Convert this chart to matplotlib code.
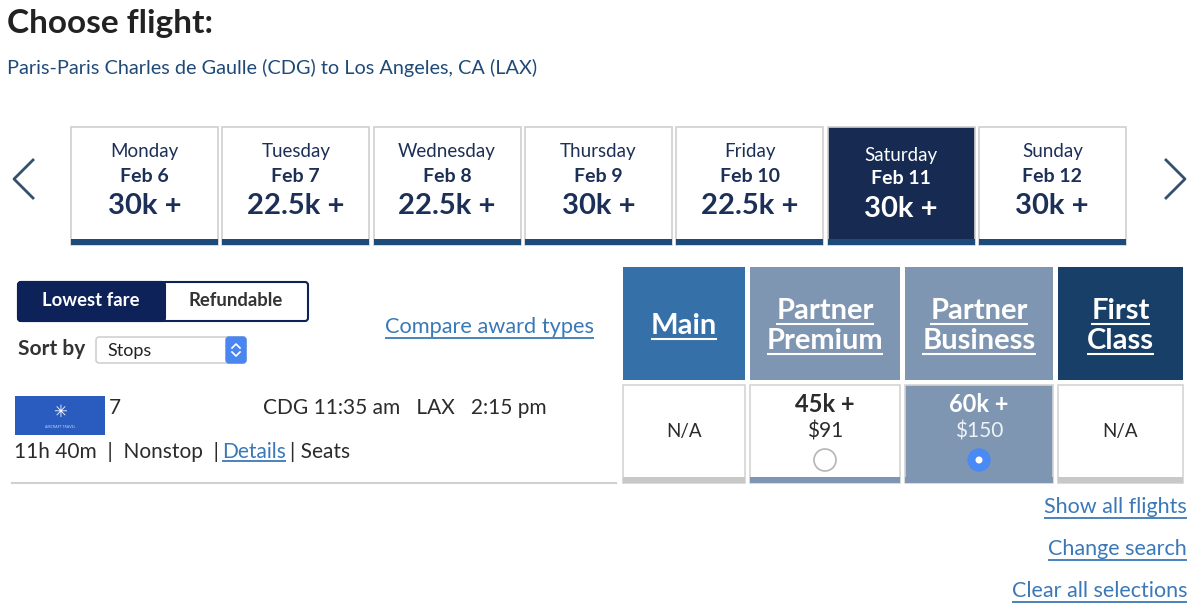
import matplotlib.pyplot as plt
from matplotlib.patches import Rectangle, FancyBboxPatch, Circle

plt.rcParams['font.family'] = ['Lato', 'DejaVu Sans']

# Data
days = ['Monday', 'Tuesday', 'Wednesday', 'Thursday', 'Friday', 'Saturday', 'Sunday']
dates = ['Feb 6', 'Feb 7', 'Feb 8', 'Feb 9', 'Feb 10', 'Feb 11', 'Feb 12']
prices = ['30k +', '22.5k +', '22.5k +', '30k +', '22.5k +', '30k +', '30k +']
selected_day = 5

fare_classes = ['Main', 'Partner\nPremium', 'Partner\nBusiness', 'First\nClass']
fare_miles = ['N/A', '45k +', '60k +', 'N/A']
fare_cash = ['', '$91', '$150', '']
selected_fare = 2

side_links = ['Show all flights', 'Change search', 'Clear all selections']

NAVY = '#172a52'
LINK = '#3a78b8'
TEXT = '#2b2b2b'
DARK = '#1c2f57'

fig = plt.figure(figsize=(12, 6.11), dpi=100)
ax = fig.add_axes([0, 0, 1, 1])
ax.set_xlim(0, 1200)
ax.set_ylim(611, 0)
ax.axis('off')
renderer = fig.canvas.get_renderer()


def underline(t, dy, color, lw=1.3):
    bb = t.get_window_extent(renderer).transformed(ax.transData.inverted())
    x0, x1 = sorted([bb.x0, bb.x1])
    ax.plot([x0, x1], [dy, dy], color=color, lw=lw, solid_capstyle='butt')


# header
ax.text(7, 24, 'Choose flight:', fontsize=24, fontweight='bold', color='#222222', va='center')
ax.text(7, 68, 'Paris-Paris Charles de Gaulle (CDG) to Los Angeles, CA (LAX)',
        fontsize=14.3, color='#1f4a78', va='center')

# date cards
card_x0, card_w, card_gap = 71, 147, 4.3
for i, (d, dt, p) in enumerate(zip(days, dates, prices)):
    x = card_x0 + i * (card_w + card_gap)
    sel = i == selected_day
    ax.add_patch(Rectangle((x, 127), card_w, 118, facecolor=NAVY if sel else 'white',
                           edgecolor='#cfcfcf', lw=1.2))
    ax.add_patch(Rectangle((x, 239), card_w, 6, facecolor='#1d4a78', edgecolor='none'))
    c = 'white' if sel else DARK
    off = 3 if sel else 0
    ax.text(x + card_w / 2, 152 + off, d, ha='center', va='center', fontsize=13.5, color=c)
    ax.text(x + card_w / 2, 176 + off, dt, ha='center', va='center', fontsize=14,
            fontweight='bold', color=c)
    ax.text(x + card_w / 2, 206 + off, p, ha='center', va='center', fontsize=21,
            fontweight='bold', color=c)

# arrows
ax.plot([33, 14, 33], [160, 179, 198], color='#34506e', lw=2)
ax.plot([1166, 1185, 1166], [160, 179, 198], color='#34506e', lw=2)

# toggle
ax.add_patch(FancyBboxPatch((18, 282), 290, 39, boxstyle='round,pad=0,rounding_size=3',
                            facecolor='white', edgecolor='#0d2259', lw=1.5))
ax.add_patch(FancyBboxPatch((18, 282), 147, 39, boxstyle='round,pad=0,rounding_size=3',
                            facecolor='#0d2259', edgecolor='#0d2259', lw=1.5))
ax.text(91, 300, 'Lowest fare', ha='center', va='center', fontsize=13.3, fontweight='bold',
        color='white')
ax.text(236, 300, 'Refundable', ha='center', va='center', fontsize=13.3, fontweight='bold',
        color='#333333')

# sort by
ax.text(18, 349, 'Sort by', va='center', fontsize=15, fontweight='bold', color='#333333')
ax.add_patch(FancyBboxPatch((96, 337), 150, 26, boxstyle='round,pad=0,rounding_size=3',
                            facecolor='white', edgecolor='#c8c8c8', lw=1))
ax.add_patch(FancyBboxPatch((226, 337), 20, 26, boxstyle='round,pad=0,rounding_size=3',
                            facecolor='#4a86f0', edgecolor='#4a86f0', lw=1))
ax.plot([232, 236, 240], [348, 344, 348], color='white', lw=1.2)
ax.plot([232, 236, 240], [352, 356, 352], color='white', lw=1.2)
ax.text(107, 351, 'Stops', va='center', fontsize=13, color='#222222')

t = ax.text(385, 327, 'Compare award types', va='center', fontsize=15.7, color=LINK)
underline(t, 338, LINK)

# fare headers and cells
fare_x = [623, 750, 905, 1058]
fare_w = [122, 150, 148, 125]
head_colors = ['#3670a8', '#7f96b2', '#7f96b2', '#173f68']
for i, (fc, fm, fcash) in enumerate(zip(fare_classes, fare_miles, fare_cash)):
    x, w = fare_x[i], fare_w[i]
    ax.add_patch(Rectangle((x, 267), w, 113, facecolor=head_colors[i], edgecolor='none'))
    lines = fc.split('\n')
    ys = [326] if len(lines) == 1 else [311, 341]
    for ln, y in zip(lines, ys):
        t = ax.text(x + w / 2, y, ln, ha='center', va='center', fontsize=21,
                    fontweight='bold', color='white')
        underline(t, y + 12.5, 'white', lw=1.5)
    sel = i == selected_fare
    ax.add_patch(Rectangle((x, 385), w, 98, facecolor='#7f96b2' if sel else 'white',
                           edgecolor='#d4d4d4', lw=1.2))
    bar = '#7f96b2' if i == 1 or sel else '#c8c8c8'
    ax.add_patch(Rectangle((x, 477), w, 6, facecolor=bar, edgecolor='none'))
    cx = x + w / 2
    if fcash == '':
        ax.text(cx, 432, fm, ha='center', va='center', fontsize=13.5, color=TEXT)
    else:
        c = 'white' if sel else TEXT
        ax.text(cx, 405, fm, ha='center', va='center', fontsize=17, fontweight='bold', color=c)
        ax.text(cx, 432, fcash, ha='center', va='center', fontsize=15,
                color='#eef2f7' if sel else TEXT)
        if sel:
            ax.add_patch(Circle((cx, 460), 11, facecolor='#4a8af4', edgecolor='#4a8af4'))
            ax.add_patch(Circle((cx, 460), 3.5, facecolor='white', edgecolor='none'))
        else:
            ax.add_patch(Circle((cx, 460), 11, facecolor='white', edgecolor='#b5b5b5', lw=1.2))

# flight row
ax.add_patch(Rectangle((15, 396), 90, 39, facecolor='#2a5bbf', edgecolor='none'))
ax.text(60, 412, '✳', ha='center', va='center', fontsize=12, color='white',
        family=['DejaVu Sans'])
ax.text(60, 427, 'AIRCRAFT TRAVEL', ha='center', va='center', fontsize=2.5, color='#c8d6f0')
ax.text(109, 408, '7', va='center', fontsize=15, color=TEXT)
ax.text(263, 408, 'CDG 11:35 am   LAX   2:15 pm', va='center', fontsize=15, color=TEXT)
ax.text(14, 452, '11h 40m  |  Nonstop  |', va='center', fontsize=15, color=TEXT)
t = ax.text(222, 452, 'Details', va='center', fontsize=15, color=LINK)
underline(t, 461, LINK)
ax.text(290, 452, '| Seats', va='center', fontsize=15, color=TEXT)
ax.plot([12, 616], [483, 483], color='#d0d0d0', lw=1.5)

# side links
for lbl, y in zip(side_links, [507, 549, 591]):
    t = ax.text(1187, y, lbl, ha='right', va='center', fontsize=15.5, color=LINK)
    underline(t, y + 11, LINK)

fig.savefig('out.png', dpi=100)
